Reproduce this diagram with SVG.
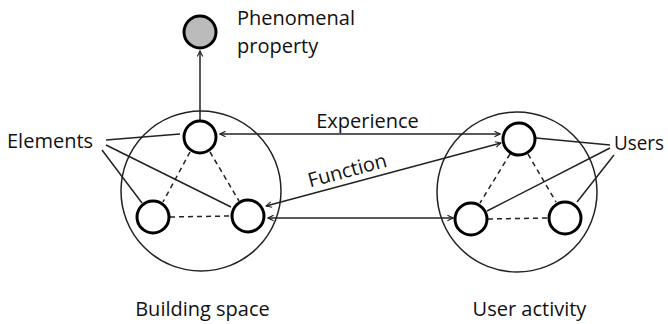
<svg xmlns="http://www.w3.org/2000/svg" width="668" height="324" viewBox="0 0 668 324">
<style>
  .big { fill: none; stroke: #222; stroke-width: 1.5; }
  .node { fill: #fff; stroke: #000; stroke-width: 3; }
  .pnode { fill: #bbb; stroke: #000; stroke-width: 3; }
  .dash { stroke: #222; stroke-width: 1.5; stroke-dasharray: 5 4; fill: none; }
  .line { stroke: #222; stroke-width: 1.5; fill: none; }
  text { font-family: "Open Sans", "Noto Sans", sans-serif; font-size: 20px; fill: #111; }
</style>
<defs>
  <marker id="ah" viewBox="0 0 10 10" refX="9" refY="5" markerWidth="7" markerHeight="7" markerUnits="userSpaceOnUse" orient="auto-start-reverse">
    <path d="M1,1 L9,5 L1,9" fill="none" stroke="#222" stroke-width="1.6"/>
  </marker>
</defs>

<g id="building-space">
  <circle class="big" cx="201" cy="191" r="80"/>
  <text x="202.5" y="316" text-anchor="middle">Building space</text>
</g>
<g id="user-activity">
  <circle class="big" cx="517" cy="192" r="80"/>
  <text x="529.5" y="316" text-anchor="middle">User activity</text>
</g>

<g id="connectors">
  <line class="dash" x1="190" y1="152" x2="163" y2="202"/>
  <line class="dash" x1="210" y1="152" x2="239" y2="201"/>
  <line class="dash" x1="170" y1="217" x2="231" y2="216"/>
  <line class="dash" x1="510" y1="154" x2="480" y2="203"/>
  <line class="dash" x1="528" y1="154" x2="556" y2="202"/>
  <line class="dash" x1="488" y1="219" x2="548" y2="218"/>
  <line class="line" x1="200" y1="120" x2="200" y2="51" marker-end="url(#ah)"/>
  <line class="line" x1="220" y1="134" x2="500" y2="134" marker-start="url(#ah)" marker-end="url(#ah)"/>
  <line class="line" x1="266" y1="206" x2="501" y2="143" marker-start="url(#ah)" marker-end="url(#ah)"/>
  <line class="line" x1="268" y1="218" x2="453" y2="218" marker-start="url(#ah)" marker-end="url(#ah)"/>
  <line class="line" x1="106" y1="140" x2="180" y2="134"/>
  <line class="line" x1="106" y1="145" x2="231" y2="207"/>
  <line class="line" x1="102" y1="150" x2="142" y2="203"/>
  <line class="line" x1="536" y1="138" x2="610" y2="145"/>
  <line class="line" x1="487" y1="211" x2="610" y2="148"/>
  <line class="line" x1="577" y1="202" x2="614" y2="155"/>
  <text x="367.5" y="128" text-anchor="middle">Experience</text>
  <text x="349" y="177" text-anchor="middle" transform="rotate(-15 349 177)">Function</text>
</g>

<g id="phenomenal-property">
  <circle class="pnode" cx="200" cy="32" r="16"/>
  <text x="237" y="25">Phenomenal</text>
  <text x="237" y="53">property</text>
</g>
<g id="elements-label"><text x="7" y="148">Elements</text></g>
<g id="users-label"><text x="614" y="150" textLength="50" lengthAdjust="spacingAndGlyphs">Users</text></g>

<g id="b-top"><circle class="node" cx="200" cy="137" r="16"/></g>
<g id="b-left"><circle class="node" cx="153" cy="217" r="16"/></g>
<g id="b-right"><circle class="node" cx="248" cy="216" r="16"/></g>
<g id="u-top"><circle class="node" cx="519" cy="139" r="16"/></g>
<g id="u-left"><circle class="node" cx="471" cy="219" r="16"/></g>
<g id="u-right"><circle class="node" cx="565" cy="218" r="16"/></g>
</svg>
